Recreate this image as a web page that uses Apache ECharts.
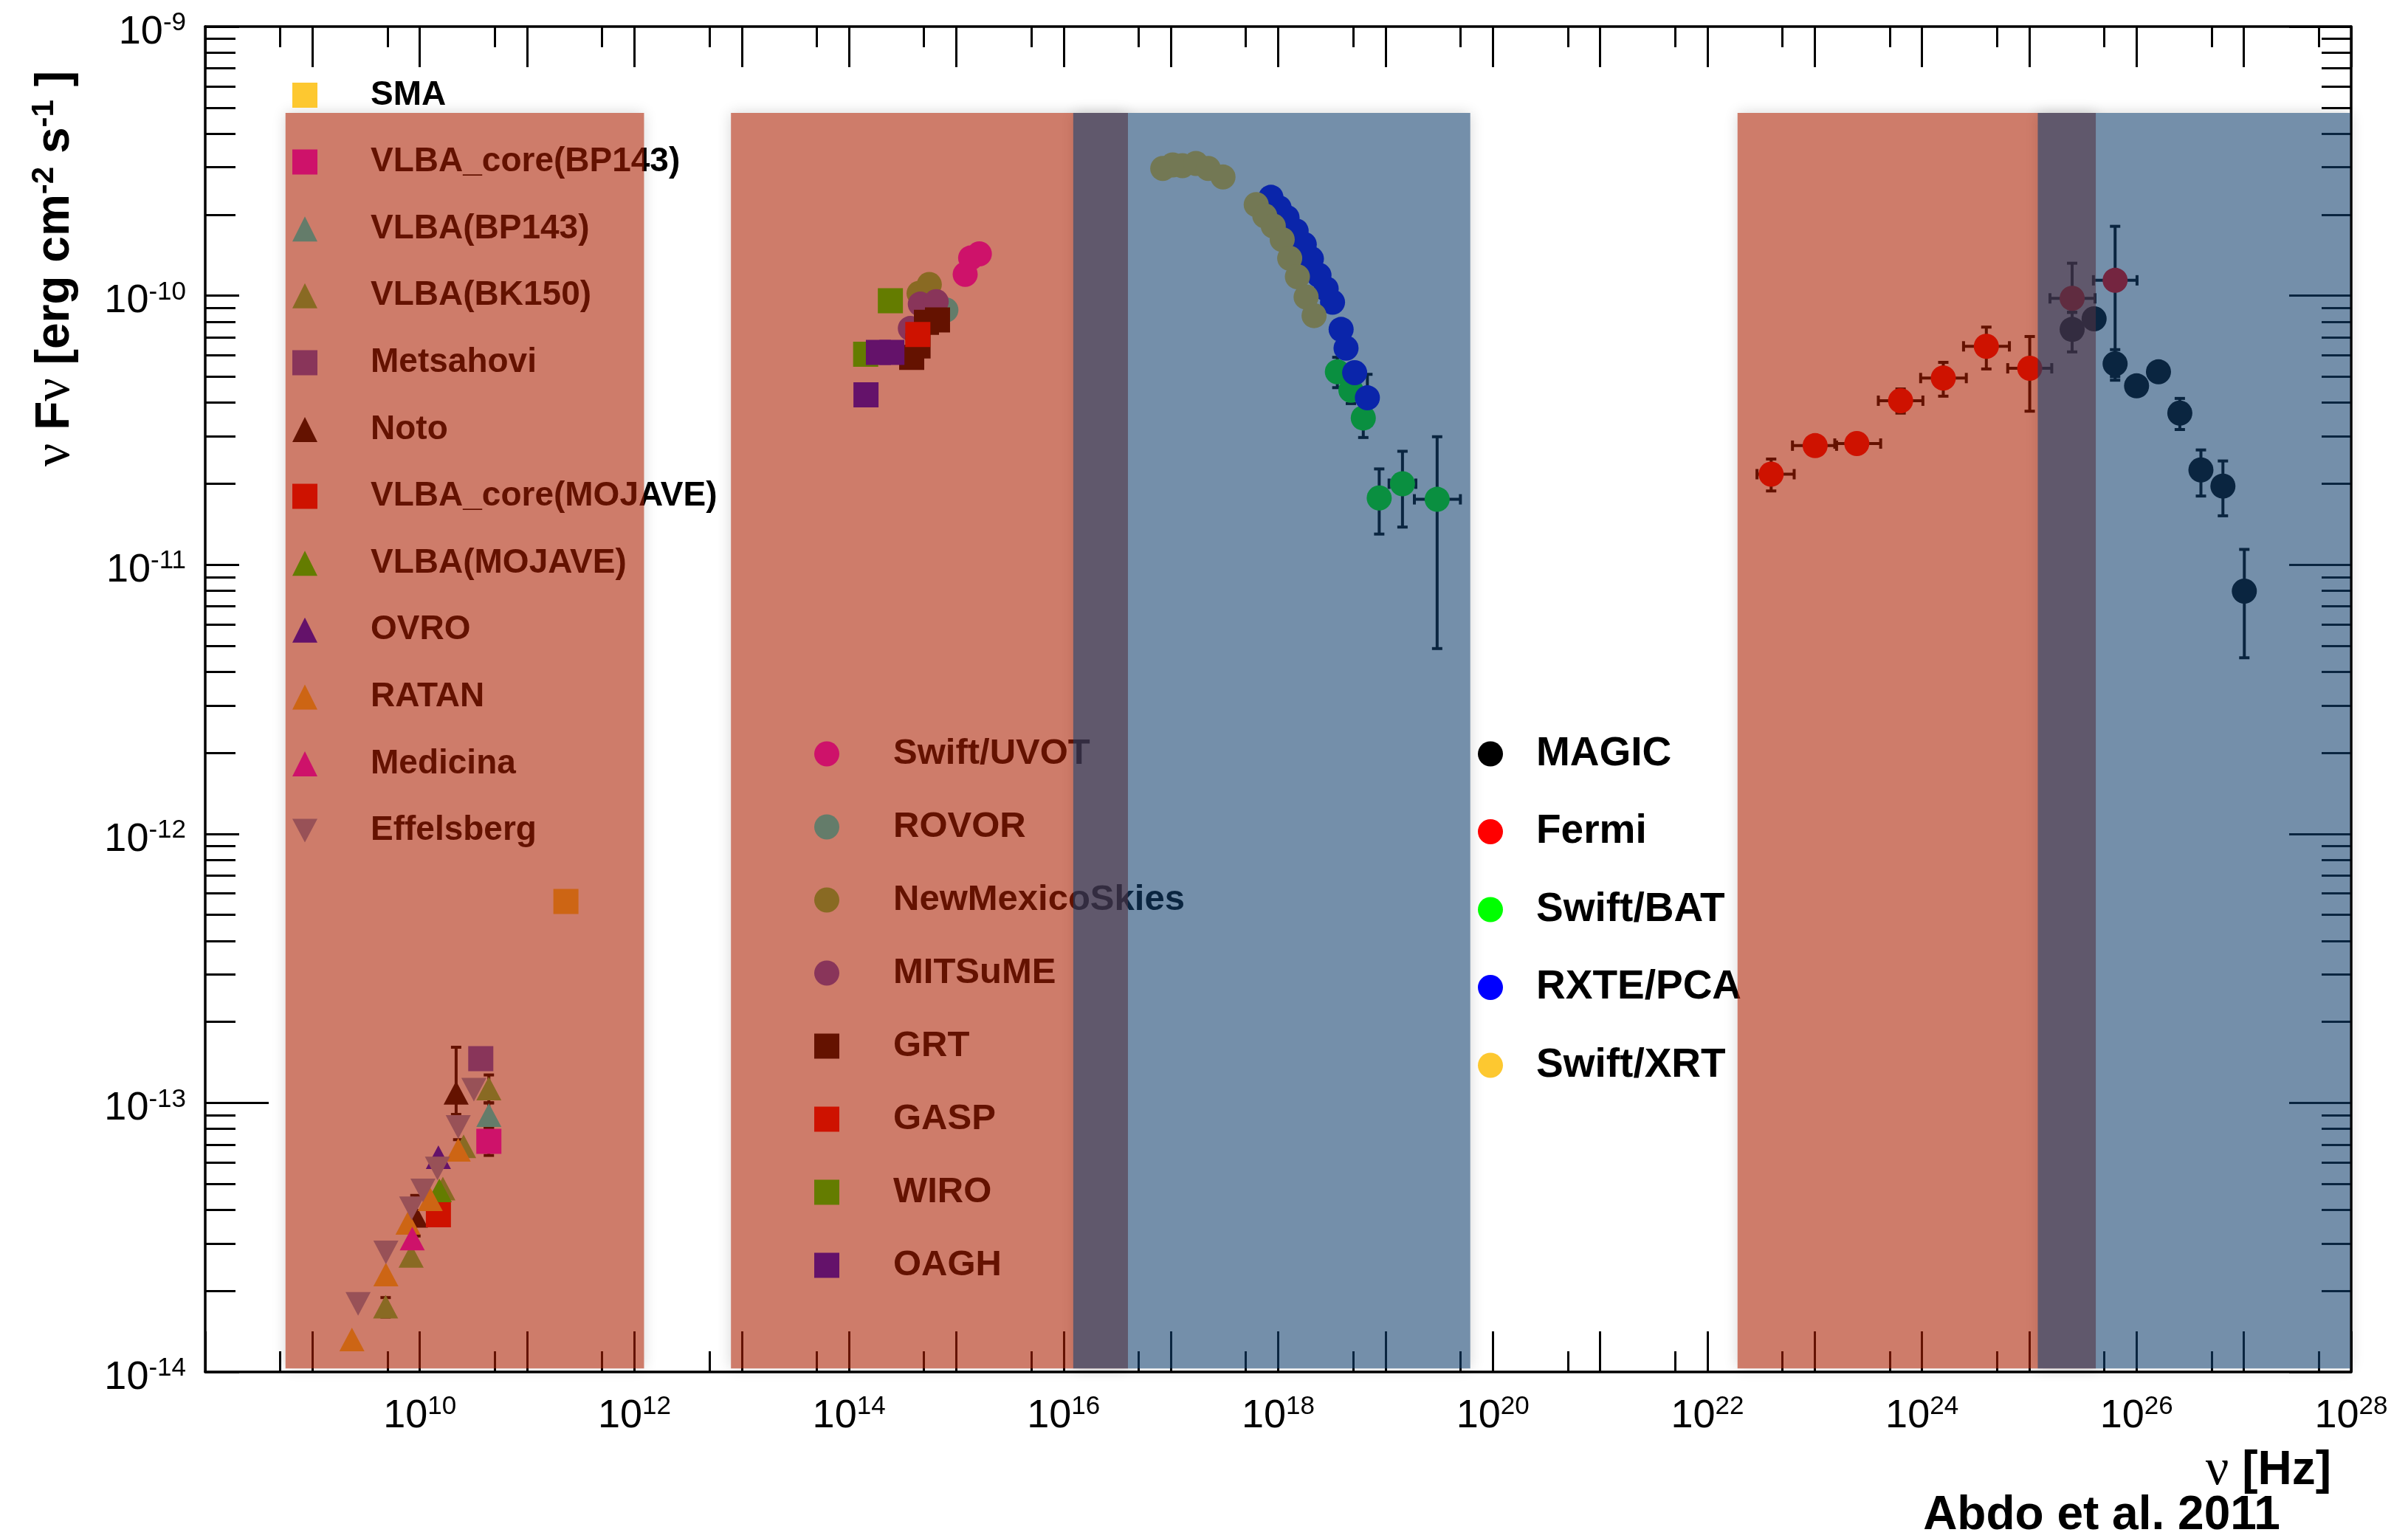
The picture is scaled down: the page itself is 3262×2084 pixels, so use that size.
<!DOCTYPE html>
<html>
<head>
<meta charset="utf-8">
<script src="https://cdn.jsdelivr.net/npm/echarts@6/dist/echarts.min.js"></script>
<style>html,body{margin:0;padding:0;background:#fff;}#chart{width:3262px;height:2084px;}</style>
</head>
<body>
<div id="chart"></div>
<script>
// ---------------- DATA (nu [Hz], nuFnu [erg cm^-2 s^-1]) ----------------
// Radio
const smaPts = [[2.3e11, 5.6e-13]];
const vlbaCoreBP143Pts = [[4.4e10, 7.2e-14]];
const vlbaBP143Pts = [[4.4e10, 9.0e-14]];
const vlbaBK150Pts = [[4.8e9, 1.75e-14], [8.3e9, 2.7e-14], [1.64e10, 4.8e-14], [2.56e10, 6.9e-14], [4.4e10, 1.13e-13]];
const metsahoviPts = [[3.7e10, 1.46e-13]];
const notoPts = [[9.1e9, 3.8e-14], [2.18e10, 1.09e-13]];
const vlbaCoreMojavePts = [[1.49e10, 3.84e-14]];
const vlbaMojavePts = [[1.52e10, 4.73e-14]];
const ovroPts = [[1.49e10, 6.28e-14]];
const ratanPts = [[2.33e9, 1.32e-14], [4.83e9, 2.3e-14], [7.76e9, 3.58e-14], [1.25e10, 4.38e-14], [2.28e10, 6.69e-14]];
const medicinaPts = [[8.5e9, 3.13e-14]];
const effelsbergPts = [[2.66e9, 1.79e-14], [4.83e9, 2.78e-14], [8.4e9, 4.06e-14], [1.07e10, 4.73e-14], [1.46e10, 5.71e-14], [2.28e10, 8.14e-14], [3.19e10, 1.12e-13]];
// Optical / UV
const uvotPts = [[1.21e15, 1.2e-10], [1.36e15, 1.38e-10], [1.64e15, 1.43e-10]];
const rovorPts = [[8.0e14, 8.85e-11]];
const nmsPts = [[4.5e14, 1.02e-10], [5.6e14, 1.1e-10]];
const mitsumePts = [[3.73e14, 7.55e-11], [4.62e14, 9.3e-11], [6.5e14, 9.5e-11]];
const grtPts = [[3.84e14, 5.9e-11], [4.4e14, 6.5e-11], [5.27e14, 7.96e-11], [6.68e14, 8.13e-11]];
const gaspPts = [[4.38e14, 7.17e-11]];
const wiroPts = [[1.43e14, 6.06e-11], [2.43e14, 9.57e-11]];
const oaghPts = [[1.44e14, 4.28e-11], [1.88e14, 6.15e-11], [2.51e14, 6.15e-11]];
// X-ray
const xrtPts = [[8.4e16, 2.97e-10], [1.04e17, 3.06e-10], [1.28e17, 3.04e-10], [1.71e17, 3.10e-10], [2.23e17, 2.97e-10], [3.06e17, 2.76e-10],
  [6.24e17, 2.18e-10], [7.5e17, 1.98e-10], [9.0e17, 1.815e-10], [1.09e18, 1.616e-10], [1.28e18, 1.377e-10], [1.51e18, 1.175e-10], [1.82e18, 9.88e-11], [2.16e18, 8.43e-11]];
const rxtePts = [[8.56e17, 2.32e-10], [1.02e18, 2.12e-10], [1.21e18, 1.95e-10], [1.47e18, 1.74e-10], [1.75e18, 1.55e-10], [2.04e18, 1.37e-10], [2.4e18, 1.19e-10],
  [2.8e18, 1.06e-10], [3.21e18, 9.45e-11], [3.86e18, 7.49e-11], [4.29e18, 6.38e-11], [5.16e18, 5.17e-11], [6.78e18, 4.17e-11]];
// rows: [nu, flux, nuLo, nuHi, fluxLo, fluxHi]
const batData = [
  [3.56e18, 5.21e-11, null, null, 4.55e-11, 5.9e-11],
  [4.76e18, 4.45e-11, null, null, 3.97e-11, 5.0e-11],
  [6.21e18, 3.51e-11, null, null, 2.97e-11, 4.1e-11],
  [8.74e18, 1.77e-11, null, null, 1.30e-11, 2.27e-11],
  [1.44e19, 2.0e-11, 1.08e19, 1.92e19, 1.38e-11, 2.64e-11],
  [3.03e19, 1.75e-11, 1.86e19, 4.99e19, 4.88e-12, 2.99e-11]
];
// Gamma-ray
const fermiData = [
  [3.93e22, 2.17e-11, 2.90e22, 6.44e22, 1.88e-11, 2.47e-11],
  [1.01e23, 2.77e-11, 6.21e22, 1.60e23, null, null],
  [2.47e23, 2.82e-11, 1.54e23, 4.12e23, null, null],
  [6.32e23, 4.07e-11, 3.92e23, 1.02e24, 3.66e-11, 4.50e-11],
  [1.58e24, 4.94e-11, 9.72e23, 2.59e24, 4.23e-11, 5.65e-11],
  [3.98e24, 6.48e-11, 2.44e24, 6.53e24, 5.34e-11, 7.64e-11],
  [1.01e25, 5.37e-11, 6.30e24, 1.62e25, 3.72e-11, 7.05e-11],
  [2.51e25, 9.77e-11, 1.56e25, 4.10e25, 8.67e-11, 1.32e-10],
  [6.31e25, 1.14e-10, 3.96e25, 1.01e26, 5.0e-11, 1.81e-10]
];
const magicData = [
  [2.51e25, 7.49e-11, null, null, 6.18e-11, 8.67e-11],
  [4.02e25, 8.2e-11, null, null, null, null],
  [6.31e25, 5.58e-11, null, null, 4.85e-11, 6.3e-11],
  [1.0e26, 4.62e-11, null, null, 4.35e-11, 4.9e-11],
  [1.6e26, 5.21e-11, null, null, null, null],
  [2.53e26, 3.66e-11, null, null, 3.18e-11, 4.15e-11],
  [3.98e26, 2.25e-11, null, null, 1.80e-11, 2.67e-11],
  [6.38e26, 1.96e-11, null, null, 1.52e-11, 2.43e-11],
  [1.01e27, 7.98e-12, null, null, 4.51e-12, 1.14e-11]
];
const otherErr = [
  [2.18e10, 1.09e-13, null, null, 9.06e-14, 1.61e-13],
  [9.1e9, 3.8e-14, null, null, 3.2e-14, 4.53e-14],
  [4.4e10, 7.2e-14, null, null, 6.38e-14, 8.04e-14],
  [4.4e10, 9.0e-14, null, null, 8.1e-14, 1.0e-13],
  [4.4e10, 1.13e-13, null, null, 1.0e-13, 1.27e-13],
  [4.8e9, 1.75e-14, null, null, 1.6e-14, 1.89e-14],
  [8.3e9, 2.7e-14, null, null, 2.5e-14, 2.9e-14],
  [2.28e10, 6.69e-14, null, null, 6.2e-14, 7.3e-14],
  [6.78e18, 4.17e-11, null, null, 3.3e-11, 5.1e-11]
];
// Shaded frequency bands: [nuStart, nuEnd]
const synchrotronBands = [[5.6e8, 1.23e12], [7.94e12, 3.98e16], [1.91e22, 4.17e25]];
const comptonBands = [[1.23e16, 6.17e19], [1.20e25, 9.77e27]];
const bandFlux = [1.03e-14, 4.78e-10];
// Axis ticks (exponents)
const xMajorExp = [8,9,10,11,12,13,14,15,16,17,18,19,20,21,22,23,24,25,26,27,28];
const xLabelExp = [10,12,14,16,18,20,22,24,26,28];
const xMinorMult = [5];
const yExp = [-14,-13,-12,-11,-10,-9];
const yMinorMult = [2,3,4,5,6,7,8,9];

// ---------------- BUILD ----------------
const FONT = "'Liberation Sans', Arial, Helvetica, sans-serif";
const GREEK = "'Liberation Serif', 'DejaVu Serif', serif";
const L = Math.log10;
const toXY = pts => pts.map(p => [L(p[0]), L(p[1])]);
const lg = v => (v == null ? 0 : L(v));
const toErr = rows => rows.map(r => [L(r[0]), L(r[1]), lg(r[2]), lg(r[3]), lg(r[4]), lg(r[5])]);

const xMinor = [];
xMajorExp.slice(0, -1).forEach(e => xMinorMult.forEach(m => xMinor.push(e + L(m))));
const yMinor = [];
yExp.slice(0, -1).forEach(e => yMinorMult.forEach(m => yMinor.push(e + L(m))));

const SQ = 34, TRI = [34, 32];
const DOWN_TRI = 'path://M0,0L34,0L17,32Z';
const defs = [
  ['SMA', smaPts, '#FDC830', 'rect', SQ],
  ['VLBA_core(BP143)', vlbaCoreBP143Pts, '#FF00FF', 'rect', SQ],
  ['VLBA(BP143)', vlbaBP143Pts, '#00FFFF', 'triangle', TRI],
  ['VLBA(BK150)', vlbaBK150Pts, '#59D454', 'triangle', TRI],
  ['Metsahovi', metsahoviPts, '#5954D9', 'rect', SQ],
  ['Noto', notoPts, '#000000', 'triangle', TRI],
  ['VLBA_core(MOJAVE)', vlbaCoreMojavePts, '#FF0000', 'rect', SQ],
  ['VLBA(MOJAVE)', vlbaMojavePts, '#00FF00', 'triangle', TRI],
  ['OVRO', ovroPts, '#0000FF', 'triangle', TRI],
  ['RATAN', ratanPts, '#FDC830', 'triangle', TRI],
  ['Medicina', medicinaPts, '#FF00FF', 'triangle', TRI],
  ['Effelsberg', effelsbergPts, '#7D99D1', DOWN_TRI, TRI],
  ['Swift/UVOT', uvotPts, '#FF00FF', 'circle', SQ],
  ['ROVOR', rovorPts, '#00FFFF', 'circle', SQ],
  ['NewMexicoSkies', nmsPts, '#59D454', 'circle', SQ],
  ['MITSuME', mitsumePts, '#5954D9', 'circle', SQ],
  ['GRT', grtPts, '#000000', 'rect', SQ],
  ['GASP', gaspPts, '#FF0000', 'rect', SQ],
  ['WIRO', wiroPts, '#00FF00', 'rect', SQ],
  ['OAGH', oaghPts, '#0000FF', 'rect', SQ],
  ['MAGIC', magicData, '#000000', 'circle', SQ],
  ['Fermi', fermiData, '#FF0000', 'circle', SQ],
  ['Swift/BAT', batData, '#00FF00', 'circle', SQ],
  ['RXTE/PCA', rxtePts, '#0000FF', 'circle', SQ],
  ['Swift/XRT', xrtPts, '#FDC830', 'circle', SQ]
];

function renderErr(params, api) {
  const x = api.value(0), y = api.value(1);
  const xl = api.value(2), xh = api.value(3), yl = api.value(4), yh = api.value(5);
  const st = {stroke: '#000', lineWidth: 4, fill: null};
  const cap = 7;
  const kids = [];
  const line = (a, b) => kids.push({type: 'line', shape: {x1: a[0], y1: a[1], x2: b[0], y2: b[1]}, style: st});
  if (yl !== 0 && yh !== 0) {
    const a = api.coord([x, yl]), b = api.coord([x, yh]);
    line(a, b);
    line([a[0] - cap, a[1]], [a[0] + cap, a[1]]);
    line([b[0] - cap, b[1]], [b[0] + cap, b[1]]);
  }
  if (xl !== 0 && xh !== 0) {
    const a = api.coord([xl, y]), b = api.coord([xh, y]);
    line(a, b);
    line([a[0], a[1] - cap], [a[0], a[1] + cap]);
    line([b[0], b[1] - cap], [b[0], b[1] + cap]);
  }
  return {type: 'group', children: kids};
}

function bandSeries(bands, style, z) {
  return {
    type: 'custom', silent: true, z: z, clip: false,
    encode: {x: [0, 1], y: [2, 3]},
    data: bands.map(b => [L(b[0]), L(b[1]), L(bandFlux[0]), L(bandFlux[1])]),
    renderItem: (params, api) => {
      const p1 = api.coord([api.value(0), api.value(3)]);
      const p2 = api.coord([api.value(1), api.value(2)]);
      return {type: 'rect', shape: {x: p1[0], y: p1[1], width: p2[0] - p1[0], height: p2[1] - p1[1]}, style: style};
    }
  };
}

const series = [];
// soft shadow under the shaded bands (white caster, drawn beneath everything)
series.push(bandSeries([].concat(synchrotronBands, comptonBands),
  {fill: '#ffffff', shadowBlur: 18, shadowColor: 'rgba(0,0,0,0.16)'}, -1));
series.push({
  type: 'custom', silent: true, z: 2,
  encode: {x: 0, y: 1},
  data: toErr([].concat(fermiData, magicData, batData, otherErr)),
  renderItem: renderErr
});
defs.forEach(d => {
  series.push({
    type: 'scatter', name: d[0], silent: true, z: 3,
    data: toXY(d[1]),
    symbol: d[3], symbolSize: d[4], symbolKeepAspect: false,
    itemStyle: {color: d[2], opacity: 1}
  });
});
series.push(bandSeries(synchrotronBands, {fill: 'rgba(171,31,0,0.585)'}, 10));
series.push(bandSeries(comptonBands, {fill: 'rgba(17,63,109,0.585)'}, 10));

const labelRich = {
  b: {fontFamily: FONT, fontSize: 54, lineHeight: 60, color: '#000'},
  s: {fontFamily: FONT, fontSize: 35, lineHeight: 24, verticalAlign: 'top', color: '#000'}
};
const expFmt = v => '{b|10}{s|' + Math.round(v) + '}';
const axLine = {color: '#000', width: 3.5};
const tkLine = {color: '#000', width: 3};

function xAx(pos, ticks, len, showLine, labels) {
  return {
    type: 'value', position: pos, min: 8, max: 28,
    axisLine: {show: showLine, onZero: false, lineStyle: axLine},
    axisTick: {show: true, inside: true, length: len, lineStyle: tkLine, customValues: ticks},
    axisLabel: labels ? {show: true, customValues: xLabelExp, formatter: expFmt, rich: labelRich, margin: 30} : {show: false},
    splitLine: {show: false}
  };
}
function yAx(pos, ticks, len, showLine, labels) {
  return {
    type: 'value', position: pos, min: -14, max: -9,
    axisLine: {show: showLine, onZero: false, lineStyle: axLine},
    axisTick: {show: true, inside: true, length: len, lineStyle: tkLine, customValues: ticks},
    axisLabel: labels ? {show: true, customValues: yExp, formatter: expFmt, rich: labelRich, margin: 26, padding: [16, 0, 0, 0]} : {show: false},
    splitLine: {show: false}
  };
}

function legend(names, left, top, gap, fontSize, pad) {
  return {
    data: names, orient: 'vertical', left: left, top: top, padding: 0,
    itemWidth: 34, itemHeight: 34, itemGap: gap, selectedMode: false,
    textStyle: {fontFamily: FONT, fontWeight: 'bold', fontSize: fontSize, color: '#000', lineHeight: 34, padding: [0, 0, 0, pad]}
  };
}

const option = {
  animation: false,
  backgroundColor: '#fff',
  textStyle: {fontFamily: FONT},
  grid: {left: 278, right: 77, top: 36, bottom: 225, containLabel: false, outerBoundsMode: 'none'},
  xAxis: [
    xAx('bottom', xMajorExp, 55, true, true),
    xAx('bottom', xMinor, 28, false, false),
    xAx('top', xMajorExp, 55, true, false),
    xAx('top', xMinor, 28, false, false)
  ],
  yAxis: [
    yAx('left', [-14, -12, -11, -10, -9], 46, true, true),
    yAx('left', yMinor, 41, false, false),
    yAx('left', [-13], 86, false, false),
    yAx('right', yExp, 84, true, false),
    yAx('right', yMinor, 40, false, false)
  ],
  legend: [
    legend(defs.slice(0, 12).map(d => d[0]), 396, 106, 44.6, 46, 67),
    legend(defs.slice(12, 20).map(d => d[0]), 1103, 997, 50, 49, 68),
    legend(defs.slice(20, 25).map(d => d[0]), 2002, 994, 50.5, 55, 40)
  ],
  graphic: [
    {type: 'text', x: 75, y: 96, rotation: Math.PI / 2, z: 100,
      style: {text: '{g|ν}{b| F}{g|ν}{b| [erg cm}{s|-2}{b| s}{s|-1}{b| ]}', align: 'right', verticalAlign: 'middle',
        rich: {
          b: {fontFamily: FONT, fontWeight: 'bold', fontSize: 64, lineHeight: 72, fill: '#000'},
          g: {fontFamily: GREEK, fontSize: 70, lineHeight: 72, fill: '#000'},
          s: {fontFamily: FONT, fontWeight: 'bold', fontSize: 42, lineHeight: 30, verticalAlign: 'top', fill: '#000'}
        }}},
    {type: 'text', x: 3158, y: 1993, z: 100,
      style: {text: '{g|ν}{b| [Hz]}', align: 'right', verticalAlign: 'middle',
        rich: {
          b: {fontFamily: FONT, fontWeight: 'bold', fontSize: 64, lineHeight: 72, fill: '#000'},
          g: {fontFamily: GREEK, fontSize: 70, lineHeight: 72, fill: '#000'}
        }}},
    {type: 'text', x: 2847, y: 2054, z: 100,
      style: {text: 'Abdo et al. 2011', fontFamily: FONT, fontWeight: 'bold', fontSize: 64, fill: '#000', align: 'center', verticalAlign: 'middle'}}
  ],
  series: series
};

const chart = echarts.init(document.getElementById('chart'), null, {renderer: 'canvas', width: 3262, height: 2084});
chart.setOption(option);
</script>
</body>
</html>
